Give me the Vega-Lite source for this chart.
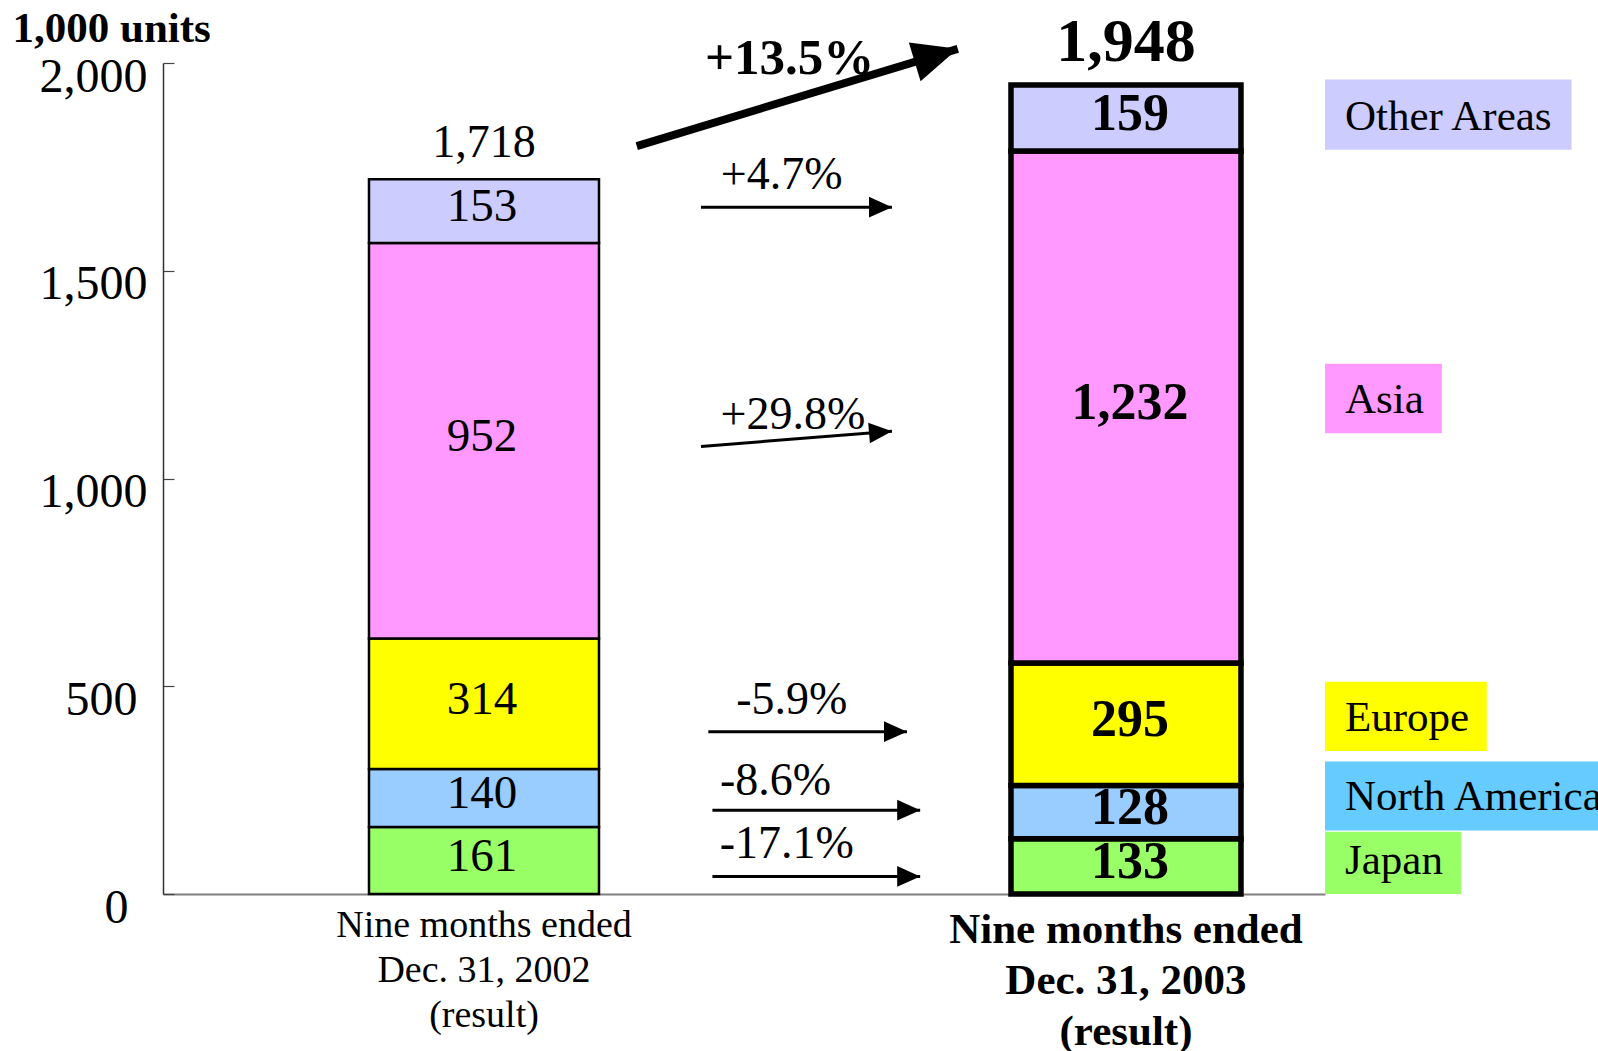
{
  "$schema": "https://vega.github.io/schema/vega-lite/v6.json",
  "width": 1162,
  "height": 831,
  "autosize": {"type": "none"},
  "padding": {"left": 163, "top": 63, "right": 273, "bottom": 157},
  "background": "white",
  "config": {"view": {"stroke": null}, "font": "Liberation Serif", "text": {"font": "Liberation Serif", "color": "black"}},
  "datasets": {
    "sales": [
      {"period": 1, "region": "Japan", "ord": 1, "value": 161},
      {"period": 1, "region": "North America", "ord": 2, "value": 140},
      {"period": 1, "region": "Europe", "ord": 3, "value": 314},
      {"period": 1, "region": "Asia", "ord": 4, "value": 952},
      {"period": 1, "region": "Other Areas", "ord": 5, "value": 153},
      {"period": 2, "region": "Japan", "ord": 1, "value": 133},
      {"period": 2, "region": "North America", "ord": 2, "value": 128},
      {"period": 2, "region": "Europe", "ord": 3, "value": 295},
      {"period": 2, "region": "Asia", "ord": 4, "value": 1232},
      {"period": 2, "region": "Other Areas", "ord": 5, "value": 159}
    ],
    "totals": [
      {"period": 1, "total": 1718},
      {"period": 2, "total": 1948}
    ],
    "periods": [
      {"period": 1, "label": "Nine months ended\nDec. 31, 2002\n(result)"},
      {"period": 2, "label": "Nine months ended\nDec. 31, 2003\n(result)"}
    ],
    "arrows": [
      {"label": "+13.5%", "x0": 1.238, "y0": 1800, "x1": 1.738, "y1": 2034, "lx": 1.476, "ly": 2009},
      {"label": "+4.7%", "x0": 1.338, "y0": 1653, "x1": 1.6355, "y1": 1653, "lx": 1.4636, "ly": 1730},
      {"label": "+29.8%", "x0": 1.338, "y0": 1077, "x1": 1.6355, "y1": 1114, "lx": 1.4812, "ly": 1153},
      {"label": "-5.9%", "x0": 1.3494, "y0": 390.6, "x1": 1.6589, "y1": 390.6, "lx": 1.4794, "ly": 466.7},
      {"label": "-8.6%", "x0": 1.3558, "y0": 201.7, "x1": 1.6794, "y1": 201.7, "lx": 1.454, "ly": 272.9},
      {"label": "-17.1%", "x0": 1.3558, "y0": 42.4, "x1": 1.6794, "y1": 42.4, "lx": 1.4715, "ly": 120.8}
    ],
    "legend": [
      {"name": "Other Areas", "x0": 2.31, "x1": 2.694, "y0": 1791, "y1": 1960},
      {"name": "Asia", "x0": 2.31, "x1": 2.492, "y0": 1109, "y1": 1276},
      {"name": "Europe", "x0": 2.31, "x1": 2.562, "y0": 344, "y1": 511},
      {"name": "North America", "x0": 2.31, "x1": 2.8, "y0": 153, "y1": 319},
      {"name": "Japan", "x0": 2.31, "x1": 2.522, "y0": 0, "y1": 150}
    ]
  },
  "layer": [
    {
      "data": {"name": "sales"},
      "mark": {"type": "bar", "width": 230, "stroke": "black"},
      "encoding": {
        "x": {"field": "period", "type": "quantitative", "scale": {"domain": [0.5, 2.31], "zero": false, "nice": false, "padding": 0},
          "axis": {"labels": false, "ticks": false, "grid": false, "title": null, "domainColor": "#808080", "domainWidth": 2}},
        "y": {"field": "value", "type": "quantitative", "stack": "zero", "scale": {"domain": [0, 2000], "nice": false, "padding": 0},
          "axis": {"values": [0, 500, 1000, 1500, 2000], "labelExpr": "format(datum.value, ',')", "labelFont": "Liberation Serif", "labelFontSize": 48,
            "labelColor": "black",
            "labelPadding": {"condition": [{"test": "datum.value == 0", "value": 46}, {"test": "datum.value == 500", "value": 37}], "value": 27},
            "labelBaseline": "middle", "labelOffset": 14, "tickSize": -11,
            "tickColor": "#444444", "domainColor": "#333333", "domainWidth": 1.5, "tickWidth": 1.2, "grid": false,
            "title": "1,000 units", "titleFont": "Liberation Serif", "titleFontSize": 43, "titleFontWeight": "bold",
            "titleColor": "black", "titleAngle": 0, "titleAlign": "left", "titleBaseline": "alphabetic", "titleX": -151, "titleY": -22}},
        "color": {"field": "region", "type": "nominal",
          "scale": {"domain": ["Japan", "North America", "Europe", "Asia", "Other Areas"], "range": ["#99FF66", "#99CCFF", "#FFFF00", "#FF99FF", "#CCCCFF"]},
          "legend": null},
        "order": {"field": "ord", "type": "quantitative"},
        "strokeWidth": {"condition": {"test": "datum.period == 2", "value": 5.5}, "value": 2.5}
      }
    },
    {
      "data": {"name": "sales"},
      "transform": [{"filter": "datum.period == 1"}],
      "mark": {"type": "text", "fontSize": 47, "baseline": "middle", "align": "center", "dy": -4, "dx": -2},
      "encoding": {
        "x": {"field": "period", "type": "quantitative"},
        "y": {"field": "value", "type": "quantitative", "stack": "zero", "bandPosition": 0.5},
        "detail": {"field": "region"},
        "order": {"field": "ord", "type": "quantitative"},
        "text": {"field": "value", "type": "quantitative", "format": ","}
      }
    },
    {
      "data": {"name": "sales"},
      "transform": [{"filter": "datum.period == 2"}],
      "mark": {"type": "text", "fontSize": 52, "fontWeight": "bold", "baseline": "middle", "align": "center", "dy": -4, "dx": 4},
      "encoding": {
        "x": {"field": "period", "type": "quantitative"},
        "y": {"field": "value", "type": "quantitative", "stack": "zero", "bandPosition": 0.5},
        "detail": {"field": "region"},
        "order": {"field": "ord", "type": "quantitative"},
        "text": {"field": "value", "type": "quantitative", "format": ","}
      }
    },
    {
      "data": {"name": "totals"},
      "transform": [{"filter": "datum.period == 1"}],
      "mark": {"type": "text", "fontSize": 46, "baseline": "alphabetic", "align": "center", "dy": -23},
      "encoding": {
        "x": {"field": "period", "type": "quantitative"},
        "y": {"field": "total", "type": "quantitative"},
        "text": {"field": "total", "type": "quantitative", "format": ","}
      }
    },
    {
      "data": {"name": "totals"},
      "transform": [{"filter": "datum.period == 2"}],
      "mark": {"type": "text", "fontSize": 62, "fontWeight": "bold", "baseline": "alphabetic", "align": "center", "dy": -24},
      "encoding": {
        "x": {"field": "period", "type": "quantitative"},
        "y": {"field": "total", "type": "quantitative"},
        "text": {"field": "total", "type": "quantitative", "format": ","}
      }
    },
    {
      "data": {"name": "arrows"},
      "transform": [{"filter": "datum.label != '+13.5%'"}],
      "mark": {"type": "text", "fontSize": 46, "baseline": "middle", "align": "center"},
      "encoding": {
        "x": {"field": "lx", "type": "quantitative"},
        "y": {"field": "ly", "type": "quantitative"},
        "text": {"field": "label"}
      }
    },
    {
      "data": {"name": "arrows"},
      "transform": [{"filter": "datum.label == '+13.5%'"}],
      "mark": {"type": "text", "fontSize": 51, "fontWeight": "bold", "baseline": "middle", "align": "center"},
      "encoding": {
        "x": {"field": "lx", "type": "quantitative"},
        "y": {"field": "ly", "type": "quantitative"},
        "text": {"field": "label"}
      }
    },
    {
      "data": {"name": "arrows"},
      "transform": [{"filter": "datum.label != '+13.5%'"}],
      "mark": {"type": "rule", "color": "black", "strokeWidth": 3, "strokeCap": "butt"},
      "encoding": {
        "x": {"field": "x0", "type": "quantitative"},
        "y": {"field": "y0", "type": "quantitative"},
        "x2": {"field": "x1"},
        "y2": {"field": "y1"}
      }
    },
    {
      "data": {"name": "arrows"},
      "transform": [{"filter": "datum.label == '+13.5%'"}],
      "mark": {"type": "rule", "color": "black", "strokeWidth": 8, "strokeCap": "butt"},
      "encoding": {
        "x": {"field": "x0", "type": "quantitative"},
        "y": {"field": "y0", "type": "quantitative"},
        "x2": {"field": "x1"},
        "y2": {"field": "y1"}
      }
    },
    {
      "data": {"name": "arrows"},
      "transform": [{"filter": "datum.label != '+13.5%' && datum.label != '+29.8%'"}],
      "mark": {"type": "point", "shape": "M0,0L-2,-0.9L-2,0.9Z", "filled": true, "color": "black", "opacity": 1, "size": 529, "strokeWidth": 0},
      "encoding": {
        "x": {"field": "x1", "type": "quantitative"},
        "y": {"field": "y1", "type": "quantitative"}
      }
    },
    {
      "data": {"name": "arrows"},
      "transform": [{"filter": "datum.label == '+29.8%'"}],
      "mark": {"type": "point", "shape": "M0,0L-2,-0.9L-2,0.9Z", "filled": true, "color": "black", "opacity": 1, "size": 529, "strokeWidth": 0, "angle": 355.4},
      "encoding": {
        "x": {"field": "x1", "type": "quantitative"},
        "y": {"field": "y1", "type": "quantitative"}
      }
    },
    {
      "data": {"name": "arrows"},
      "transform": [{"filter": "datum.label == '+13.5%'"}],
      "mark": {"type": "point", "shape": "M0,0L-2,-0.9L-2,0.9Z", "filled": true, "color": "black", "opacity": 1, "size": 2025, "strokeWidth": 0, "angle": 343.2},
      "encoding": {
        "x": {"field": "x1", "type": "quantitative"},
        "y": {"field": "y1", "type": "quantitative"}
      }
    },
    {
      "data": {"name": "legend"},
      "mark": {"type": "rect", "strokeWidth": 0},
      "encoding": {
        "x": {"field": "x0", "type": "quantitative"},
        "x2": {"field": "x1"},
        "y": {"field": "y0", "type": "quantitative"},
        "y2": {"field": "y1"},
        "fill": {"field": "name", "type": "nominal",
          "scale": {"domain": ["Japan", "North America", "Europe", "Asia", "Other Areas"], "range": ["#99FF66", "#66CCFF", "#FFFF00", "#FF99FF", "#CCCCFF"]},
          "legend": null}
      }
    },
    {
      "data": {"name": "legend"},
      "mark": {"type": "text", "fontSize": 43, "baseline": "middle", "align": "left", "dx": 20, "dy": -33},
      "encoding": {
        "x": {"field": "x0", "type": "quantitative"},
        "y": {"field": "y0", "type": "quantitative"},
        "text": {"field": "name"}
      }
    },
    {
      "data": {"name": "periods"},
      "transform": [{"filter": "datum.period == 1"}],
      "mark": {"type": "text", "fontSize": 38, "baseline": "top", "align": "center", "lineBreak": "\n", "lineHeight": 45, "dy": 13},
      "encoding": {
        "x": {"field": "period", "type": "quantitative"},
        "y": {"datum": 0, "type": "quantitative"},
        "text": {"field": "label"}
      }
    },
    {
      "data": {"name": "periods"},
      "transform": [{"filter": "datum.period == 2"}],
      "mark": {"type": "text", "fontSize": 43, "fontWeight": "bold", "baseline": "top", "align": "center", "lineBreak": "\n", "lineHeight": 51, "dy": 15},
      "encoding": {
        "x": {"field": "period", "type": "quantitative"},
        "y": {"datum": 0, "type": "quantitative"},
        "text": {"field": "label"}
      }
    }
  ]
}
